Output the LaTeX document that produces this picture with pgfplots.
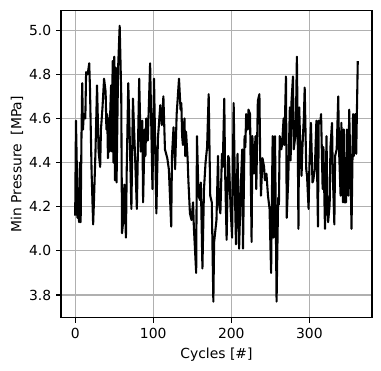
\documentclass[border=0pt]{standalone}
\usepackage{fontspec}
\setmainfont{DejaVu Sans}
\usepackage{pgfplots}
\pgfplotsset{compat=1.18}
\usepackage{pgfplotstable}
\pgfplotstableread{
x y
0 4.16
1 4.59
2 4.40
3 4.15
4 4.22
5 4.13
6 4.40
7 4.13
8 4.50
9 4.76
10 4.55
11 4.62
13 4.60
14 4.81
16 4.80
18 4.85
19 4.73
21 4.36
23 4.12
24 4.22
26 4.45
28 4.75
30 4.45
32 4.38
33 4.55
35 4.65
37 4.78
39 4.72
40 4.55
41 4.62
42 4.42
43 4.60
44 4.45
45 4.64
46 4.75
47 4.45
48 4.86
49 4.40
50 4.88
51 4.32
52 4.83
53 4.31
55 4.83
57 5.02
59 4.71
60 4.08
62 4.15
63 4.30
65 4.06
66 4.36
68 4.76
70 4.50
72 4.19
74 4.69
77 4.40
79 4.19
82 4.78
84 4.45
86 4.59
87 4.22
89 4.55
90 4.43
91 4.60
93 4.50
96 4.85
99 4.28
101 4.78
104 4.17
106 4.51
109 4.66
111 4.57
113 4.70
115 4.46
118 4.42
120 4.37
123 4.11
124 4.43
126 4.56
128 4.37
130 4.62
133 4.78
135 4.64
136 4.67
137 4.52
138 4.48
140 4.60
141 4.43
142 4.54
144 4.42
145 4.32
147 4.17
149 4.14
151 4.22
152 4.11
155 3.90
156 4.52
158 4.25
160 4.23
161 4.31
163 3.92
165 4.28
167 4.40
169 4.47
171 4.71
173 4.25
175 4.22
177 3.77
178 4.04
181 4.14
183 4.43
184 4.22
186 4.17
188 4.44
189 4.38
191 4.69
192 4.37
194 4.05
196 4.43
197 4.42
199 4.20
201 4.06
203 4.67
205 4.20
206 4.03
208 4.44
209 4.23
210 4.01
212 4.28
214 4.46
215 4.01
217 4.52
218 4.47
219 4.62
221 4.55
222 4.64
224 4.62
226 4.04
227 4.52
229 4.35
231 4.52
232 4.28
234 4.68
236 4.71
237 4.43
238 4.25
240 4.42
242 4.38
243 4.32
245 4.35
247 4.25
249 4.19
250 4.04
251 3.90
252 4.25
253 4.52
254 4.06
256 4.52
258 3.77
260 4.24
261 4.21
262 4.52
264 4.46
265 4.48
267 4.60
268 4.48
270 4.79
271 4.15
273 4.33
274 4.49
275 4.65
276 4.41
277 4.67
279 4.79
280 4.46
282 4.52
283 4.64
284 4.88
285 4.56
286 4.10
287 4.65
288 4.52
290 4.34
291 4.46
293 4.61
294 4.74
296 4.37
297 4.34
299 4.19
300 4.38
302 4.58
304 4.31
305 4.32
307 4.37
309 4.59
311 4.11
312 4.59
314 4.58
315 4.62
317 4.28
318 4.47
320 4.10
322 4.52
323 4.20
324 4.13
326 4.21
327 4.47
329 4.58
330 4.35
332 4.12
333 4.43
335 4.46
337 4.70
338 4.46
340 4.25
341 4.58
343 4.22
344 4.55
345 4.22
347 4.22
348 4.55
350 4.25
351 4.64
353 4.31
354 4.10
356 4.62
357 4.43
359 4.62
360 4.44
362 4.86
}\data
\begin{document}
\begin{tikzpicture}
\begin{axis}[
  at={(0,0)}, anchor=south west,
  scale only axis,
  width=223.9bp, height=221.3bp,
  xmin=-18.2, xmax=380.2,
  ymin=3.696, ymax=5.089,
  xtick={0,100,200,300},
  ytick={3.8,4.0,4.2,4.4,4.6,4.8,5.0},
  yticklabel style={/pgf/number format/.cd, fixed, fixed zerofill, precision=1},
  /pgf/number format/assume math mode=true,
  tick align=outside,
  major tick length=3.5bp,
  xtick pos=bottom, ytick pos=left,
  tick style={black, line width=0.8bp},
  axis line style={line width=0.8bp},
  grid=major,
  major grid style={color=black!31, line width=0.8bp},
  xlabel={Cycles [\#]},
  ylabel={Min Pressure\ \ [MPa]},
  ylabel style={yshift=-2.5bp},
  tick label style={font=\fontsize{10bp}{12bp}\selectfont},
  label style={font=\fontsize{10bp}{12bp}\selectfont},
]
\addplot[black, line width=1.5bp, line join=round] table[x=x,y=y] {\data};
\end{axis}
\pgfresetboundingbox
\useasboundingbox (-43.9bp,-38.2bp) rectangle (230.4bp,228.9bp);
\end{tikzpicture}
\end{document}
